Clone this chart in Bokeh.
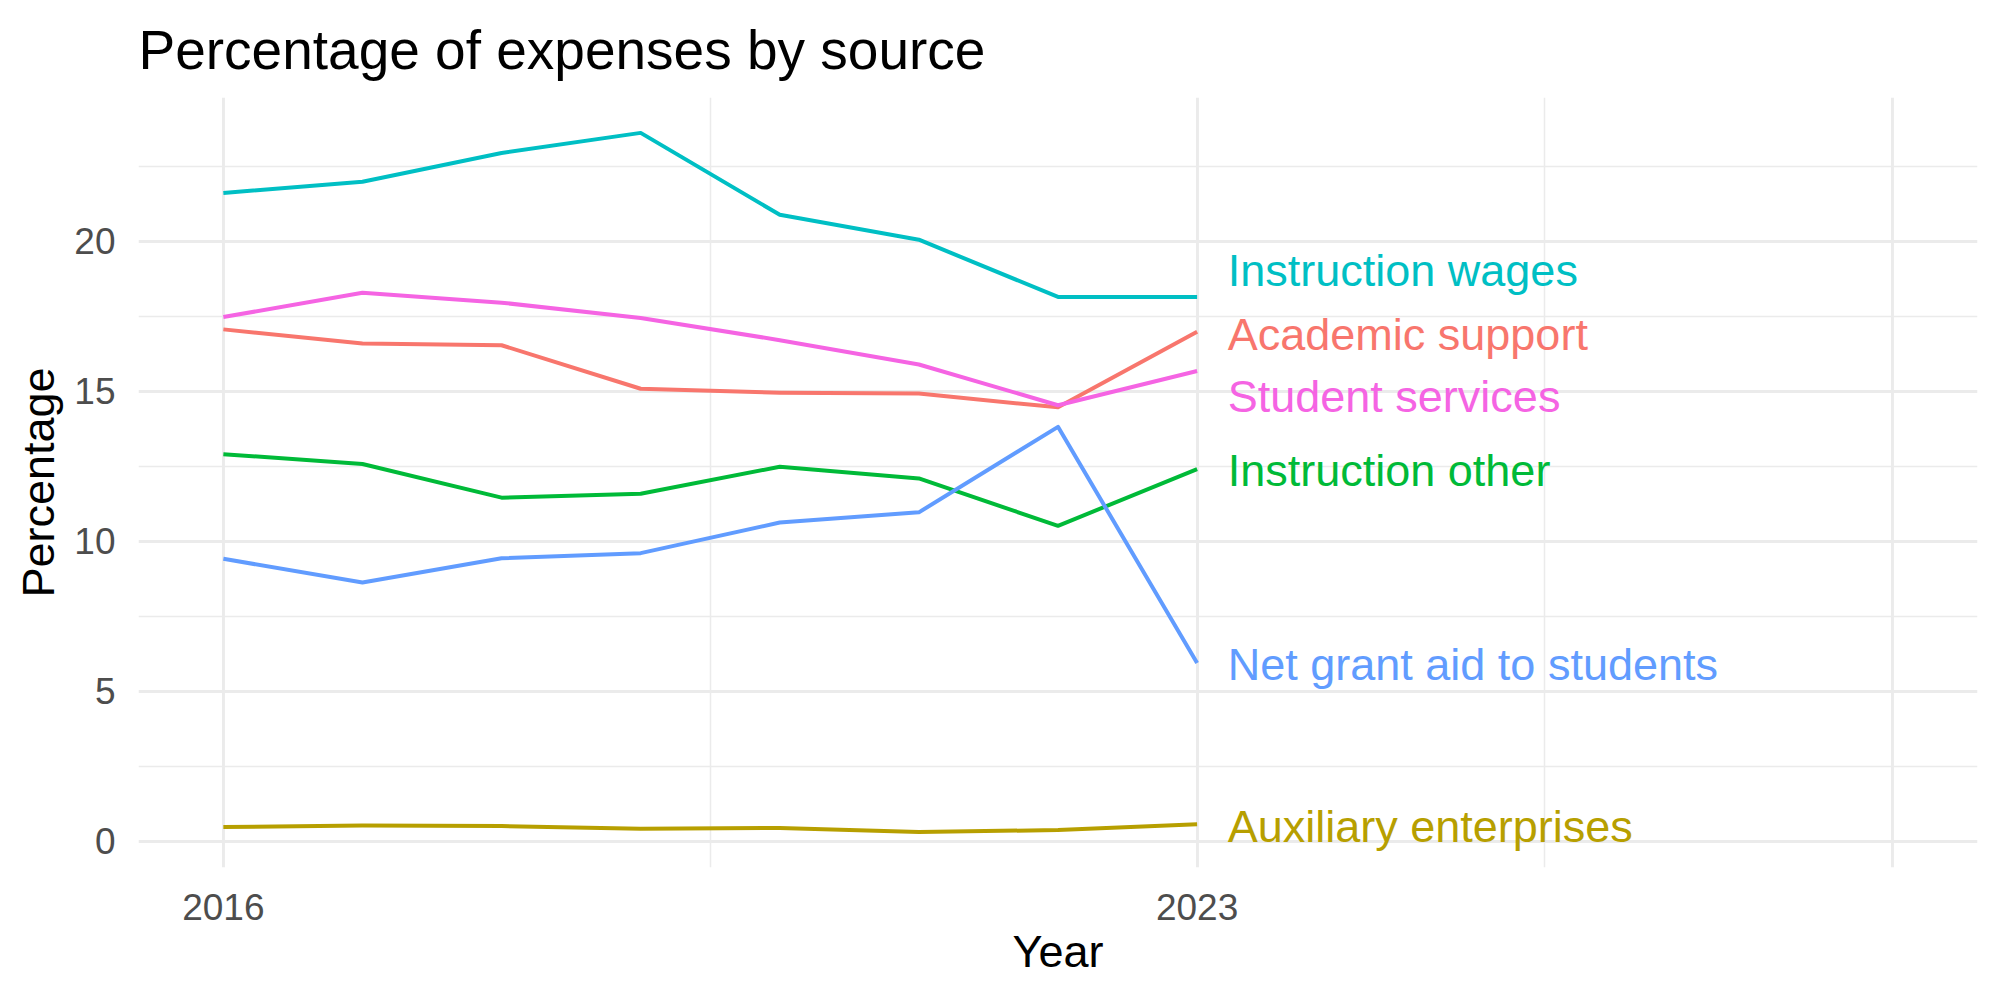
from bokeh.plotting import figure
from bokeh.models import FixedTicker, Range1d, ColumnDataSource
from bokeh.core.properties import value
from bokeh.embed import file_html
from bokeh.resources import INLINE

years = [2016, 2017, 2018, 2019, 2020, 2021, 2022, 2023]
instruction_wages = [21.62, 21.99, 22.95, 23.62, 20.89, 20.06, 18.15, 18.15]
academic_support = [17.07, 16.60, 16.54, 15.09, 14.96, 14.93, 14.47, 16.99]
student_services = [17.48, 18.29, 17.96, 17.45, 16.71, 15.90, 14.54, 15.68]
instruction_other = [12.91, 12.58, 11.46, 11.59, 12.49, 12.10, 10.52, 12.41]
net_grant_aid = [9.42, 8.63, 9.44, 9.61, 10.63, 10.97, 13.82, 5.95]
auxiliary = [0.48, 0.53, 0.51, 0.42, 0.45, 0.31, 0.38, 0.57]

series_names = ["Instruction wages", "Academic support", "Student services",
                "Instruction other", "Net grant aid to students", "Auxiliary enterprises"]
series_values = [instruction_wages, academic_support, student_services,
                 instruction_other, net_grant_aid, auxiliary]
colors = ["#00BFC4", "#F8766D", "#F564E3", "#00BA38", "#619CFF", "#B79F00"]
# label positions (repelled) at the end of each line
label_x = [2023.22] * 6
label_y = [19.02, 16.9, 14.82, 12.36, 5.9, 0.51]

FONT = "Liberation Sans"

p = figure(width=2000, height=1000, output_backend="svg", toolbar_location=None,
           x_range=Range1d(2015.39, 2028.61), y_range=Range1d(-0.87, 24.8),
           min_border_left=138, min_border_right=23, min_border_top=96,
           min_border_bottom=133)
p.outline_line_color = None
p.background_fill_color = "white"
p.border_fill_color = "white"

p.title.text = "Percentage of expenses by source"
p.title.text_font = FONT
p.title.text_font_size = "55px"
p.title.text_font_style = "normal"
p.title.text_color = "black"
p.title.align = "left"
p.title.standoff = 33

p.xaxis.ticker = FixedTicker(ticks=[2016, 2023, 2028], minor_ticks=[2019.5, 2025.5])
p.xaxis.major_label_overrides = {2028: ""}
p.yaxis.ticker = FixedTicker(ticks=[0, 5, 10, 15, 20], minor_ticks=[2.5, 7.5, 12.5, 17.5, 22.5])

for ax in (p.xaxis, p.yaxis):
    ax.axis_line_color = None
    ax.major_tick_line_color = None
    ax.minor_tick_line_color = None
    ax.major_label_text_font = FONT
    ax.major_label_text_font_size = "37px"
    ax.major_label_text_color = "#4D4D4D"
    ax.axis_label_text_font = FONT
    ax.axis_label_text_font_size = "45px"
    ax.axis_label_text_font_style = "normal"
    ax.axis_label_text_color = "black"

p.xaxis.axis_label = "Year"
p.yaxis.axis_label = "Percentage"
p.xaxis.major_label_standoff = 20
p.yaxis.major_label_standoff = 17
p.xaxis.axis_label_standoff = 3
p.yaxis.axis_label_standoff = 7

for g in (p.xgrid, p.ygrid):
    g.grid_line_color = "#EBEBEB"
    g.grid_line_width = 2.9
    g.minor_grid_line_color = "#EBEBEB"
    g.minor_grid_line_width = 1.5

for name, vals, col in zip(series_names, series_values, colors):
    p.line(years, vals, line_color=col, line_width=4, line_join="round")

src = ColumnDataSource(dict(x=label_x, y=label_y, text=series_names, color=colors))
p.text(x="x", y="y", text="text", text_color="color", source=src,
       text_font=value(FONT), text_font_size="45px",
       text_baseline="middle", text_align="left")

open("out.html", "w").write(file_html(p, INLINE))
